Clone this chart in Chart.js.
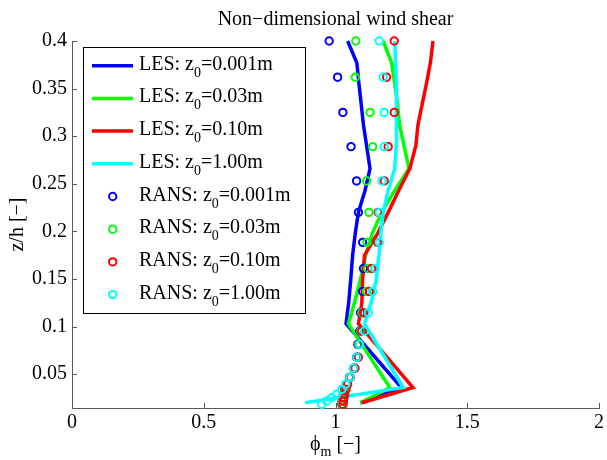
<!DOCTYPE html>
<html>
<head>
<meta charset="utf-8">
<title>Non-dimensional wind shear</title>
<script src="https://cdn.jsdelivr.net/npm/chart.js@4/dist/chart.umd.min.js"></script>
<style>
  html, body { margin: 0; padding: 0; background: #fff; }
  #wrap { width: 607px; height: 460px; }
</style>
</head>
<body>
<div id="wrap"><canvas id="shearChart" width="607" height="460"></canvas></div>
<script>
// Axis ticks
const X_TICKS = [0, 0.5, 1, 1.5, 2];
const Y_TICKS = [0.05, 0.1, 0.15, 0.2, 0.25, 0.3, 0.35, 0.4];

// Roughness lengths used in the legend
const Z0_LABELS = ['0.001', '0.03', '0.10', '1.00'];

// LES profiles (heights z/h and phi_m for each z0)
const Z_LES = [0.02, 0.036, 0.103, 0.125, 0.15, 0.175, 0.198, 0.22, 0.243, 0.266, 0.29, 0.312, 0.335, 0.355, 0.377, 0.4];
const LES_Z0_0001 = [1.094, 1.25, 1.040, 1.05, 1.058, 1.065, 1.075, 1.087, 1.112, 1.131, 1.118, 1.106, 1.097, 1.089, 1.081, 1.046];
const LES_Z0_003 = [1.095, 1.206, 1.049, 1.072, 1.095, 1.115, 1.14, 1.175, 1.225, 1.279, 1.26, 1.243, 1.235, 1.225, 1.213, 1.181];
const LES_Z0_010 = [1.10, 1.294, 1.087, 1.10, 1.103, 1.11, 1.16, 1.20, 1.24, 1.282, 1.305, 1.313, 1.33, 1.345, 1.36, 1.37];
const LES_Z0_100 = [0.885, 1.257, 1.11, 1.135, 1.155, 1.165, 1.172, 1.181, 1.2, 1.225, 1.23, 1.232, 1.232, 1.23, 1.228, 1.225];

// RANS profiles
const Z_RANS = [0.4, 0.362, 0.325, 0.289, 0.253, 0.22, 0.1885, 0.161, 0.137, 0.1146, 0.0954, 0.0814, 0.0678, 0.0562, 0.0467, 0.0394, 0.0341, 0.0289, 0.0253, 0.0218, 0.0183];
const RANS_Z0_0001 = [0.976, 1.008, 1.028, 1.059, 1.080, 1.087, 1.103, 1.106, 1.103, 1.095, 1.092, 1.085, 1.080, 1.068, 1.053, 1.042, 1.035, 1.030, 1.027, 1.025, 1.024];
const RANS_Z0_003 = [1.077, 1.075, 1.131, 1.141, 1.118, 1.127, 1.120, 1.122, 1.118, 1.100, 1.096, 1.088, 1.083, 1.071, 1.055, 1.044, 1.037, 1.032, 1.029, 1.027, 1.026];
const RANS_Z0_010 = [1.223, 1.194, 1.223, 1.200, 1.185, 1.162, 1.160, 1.137, 1.128, 1.106, 1.100, 1.090, 1.087, 1.074, 1.056, 1.046, 1.040, 1.035, 1.032, 1.030, 1.029];
const RANS_Z0_100 = [1.166, 1.181, 1.185, 1.185, 1.177, 1.166, 1.166, 1.150, 1.141, 1.125, 1.110, 1.091, 1.081, 1.068, 1.055, 1.039, 1.024, 1.005, 0.986, 0.967, 0.948];

const COLORS = ['#0000ff', '#00ff00', '#ff0000', '#00ffff'];
const AXIS_COLOR = '#5a5a5a';
const FONT = "'Liberation Serif', 'Times New Roman', serif";

function toPoints(xs, zs) {
    return xs.map((x, i) => ({ x: x, y: zs[i] }));
}

const lesSeries = [LES_Z0_0001, LES_Z0_003, LES_Z0_010, LES_Z0_100];
const ransSeries = [RANS_Z0_0001, RANS_Z0_003, RANS_Z0_010, RANS_Z0_100];

const datasets = [];
lesSeries.forEach((s, i) => {
    datasets.push({
        label: 'LES: z0=' + Z0_LABELS[i] + 'm',
        data: toPoints(s, Z_LES),
        showLine: true,
        borderColor: COLORS[i],
        borderWidth: 3.5,
        pointRadius: 0,
        fill: false,
        tension: 0,
        clip: false,
        order: 8 - i
    });
});
ransSeries.forEach((s, i) => {
    datasets.push({
        label: 'RANS: z0=' + Z0_LABELS[i] + 'm',
        data: toPoints(s, Z_RANS),
        showLine: false,
        pointStyle: 'circle',
        pointRadius: 3.7,
        pointBorderWidth: 2,
        pointBorderColor: COLORS[i],
        pointBackgroundColor: 'rgba(0,0,0,0)',
        clip: false,
        order: 4 - i
    });
});

// draws a string with a subscript part, returns the end x
function drawSub(ctx, x, y, main, sub, rest, size, subSize, drop) {
    ctx.font = size + 'px ' + FONT;
    ctx.fillText(main, x, y);
    x += ctx.measureText(main).width;
    ctx.font = subSize + 'px ' + FONT;
    ctx.fillText(sub, x, y + drop);
    x += ctx.measureText(sub).width;
    ctx.font = size + 'px ' + FONT;
    ctx.fillText(rest, x, y);
    return x + ctx.measureText(rest).width;
}

function measureSub(ctx, main, sub, rest, size, subSize) {
    ctx.font = size + 'px ' + FONT;
    let w = ctx.measureText(main).width + ctx.measureText(rest).width;
    ctx.font = subSize + 'px ' + FONT;
    return w + ctx.measureText(sub).width;
}

const overlay = {
    id: 'overlay',
    afterDraw(chart) {
        const ctx = chart.ctx;
        const xs = chart.scales.x;
        const ys = chart.scales.y;
        const area = chart.chartArea;
        ctx.save();

        // inward tick marks
        ctx.strokeStyle = AXIS_COLOR;
        ctx.lineWidth = 1;
        ctx.beginPath();
        X_TICKS.forEach(v => {
            const px = Math.round(xs.getPixelForValue(v)) + 0.5;
            ctx.moveTo(px, area.bottom);
            ctx.lineTo(px, area.bottom - 5);
        });
        Y_TICKS.forEach(v => {
            const py = Math.round(ys.getPixelForValue(v)) + 0.5;
            ctx.moveTo(area.left, py);
            ctx.lineTo(area.left + 5, py);
        });
        ctx.stroke();

        ctx.fillStyle = '#000';
        ctx.textBaseline = 'alphabetic';

        // title
        ctx.font = '20px ' + FONT;
        ctx.textAlign = 'center';
        ctx.fillText('Non\u2212dimensional wind shear', (area.left + area.right) / 2, 25);

        // y axis title
        ctx.save();
        ctx.translate(23, (area.top + area.bottom) / 2);
        ctx.rotate(-Math.PI / 2);
        ctx.fillText('z/h [\u2212]', 0, 0);
        ctx.restore();

        // x axis title with subscript
        ctx.textAlign = 'left';
        const xw = measureSub(ctx, '\u03d5', 'm', ' [\u2212]', 20, 14);
        drawSub(ctx, xs.getPixelForValue(1) - xw / 2, 450, '\u03d5', 'm', ' [\u2212]', 20, 14, 6);

        // legend box
        const box = { x: 83, y: 47, w: 222, h: 266 };
        ctx.fillStyle = '#fff';
        ctx.fillRect(box.x, box.y, box.w, box.h);
        ctx.strokeStyle = '#000';
        ctx.lineWidth = 1;
        ctx.strokeRect(box.x + 0.5, box.y + 0.5, box.w, box.h);

        const rowStart = 65.7, rowStep = 32.7;
        for (let i = 0; i < 8; i++) {
            const ry = rowStart + i * rowStep;
            const c = COLORS[i % 4];
            if (i < 4) {
                ctx.strokeStyle = c;
                ctx.lineWidth = 3.5;
                ctx.beginPath();
                ctx.moveTo(92, ry);
                ctx.lineTo(133, ry);
                ctx.stroke();
            } else {
                ctx.strokeStyle = c;
                ctx.lineWidth = 2;
                ctx.beginPath();
                ctx.arc(112.7, ry, 3.7, 0, Math.PI * 2);
                ctx.stroke();
            }
            ctx.fillStyle = '#000';
            const prefix = i < 4 ? 'LES: z' : 'RANS: z';
            drawSub(ctx, 139, ry + 4, prefix, '0', '=' + Z0_LABELS[i % 4] + 'm', 20, 14, 7);
        }
        ctx.restore();
    }
};

const ctx = document.getElementById('shearChart').getContext('2d');
const shearChart = new Chart(ctx, {
    type: 'scatter',
    data: { datasets: datasets },
    options: {
        responsive: false,
        animation: false,
        events: [],
        layout: { padding: { top: 41, right: 5, left: 0, bottom: 0 } },
        plugins: {
            legend: { display: false },
            tooltip: { enabled: false },
            title: { display: false }
        },
        scales: {
            x: {
                type: 'linear',
                min: 0,
                max: 2,
                grid: { display: false, drawTicks: false },
                border: { display: true, color: AXIS_COLOR, width: 1 },
                afterBuildTicks: function(scale) {
                    scale.ticks = X_TICKS.map(v => ({ value: v }));
                },
                afterFit: function(scale) { scale.height = 52; },
                ticks: {
                    autoSkip: false,
                    maxRotation: 0,
                    padding: 3,
                    color: '#000',
                    font: { family: FONT, size: 20 },
                    callback: v => String(+(+v).toFixed(3))
                }
            },
            y: {
                type: 'linear',
                min: 0.0145,
                max: 0.4,
                grid: { display: false, drawTicks: false },
                border: { display: true, color: AXIS_COLOR, width: 1 },
                afterBuildTicks: function(scale) {
                    scale.ticks = Y_TICKS.map(v => ({ value: v }));
                },
                afterFit: function(scale) { scale.width = 72; },
                ticks: {
                    autoSkip: false,
                    padding: 5,
                    color: '#000',
                    font: { family: FONT, size: 20 },
                    callback: v => String(+(+v).toFixed(3))
                }
            }
        }
    },
    plugins: [overlay]
});
</script>
</body>
</html>
